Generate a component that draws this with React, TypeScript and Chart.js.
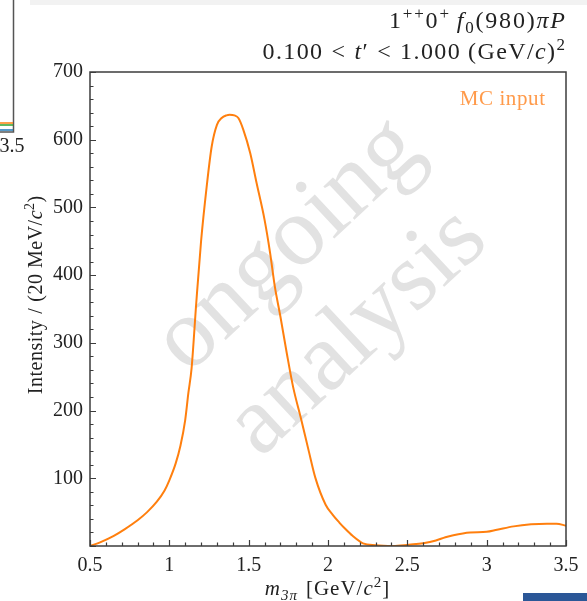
import React, { useEffect, useRef } from "react";
import { Chart, registerables } from "chart.js";

Chart.register(...registerables);

// ---- data ----
const massValues = [
  0.5, 0.56, 0.65, 0.72, 0.8, 0.86, 0.92, 0.97, 1.0, 1.04, 1.07, 1.1, 1.12, 1.14,
  1.17, 1.2, 1.235, 1.267, 1.3, 1.33, 1.36, 1.38, 1.41, 1.435, 1.466, 1.51, 1.55, 1.6,
  1.635, 1.665, 1.7, 1.74, 1.78, 1.83, 1.88, 1.92, 1.985, 2.03, 2.07, 2.11, 2.155, 2.22,
  2.3, 2.41, 2.51, 2.6, 2.68, 2.74, 2.79, 2.895, 3.0, 3.065, 3.17, 3.28, 3.38, 3.44, 3.5,
];
const intensityValues = [
  0, 5, 15, 25, 38, 50, 65, 82, 97, 122, 148, 186, 226, 262,
  360, 450, 530, 590, 622, 632, 636, 637, 636, 632, 615, 580, 536, 482,
  433, 383, 339, 285, 235, 188, 139, 101, 61, 46, 35, 25, 15, 4,
  1, 0, 2, 4, 8, 13, 16, 20, 21, 24, 29, 32, 33, 33, 30,
];
const xTickValues = [0.5, 1, 1.5, 2, 2.5, 3, 3.5];
const yTickValues = [100, 200, 300, 400, 500, 600, 700];
const seriesLabel = "MC input";
const watermarkWords = ["ongoing", "analysis"];

const SERIF = '"Liberation Serif", "DejaVu Serif", serif';
const LINE_COLOR = "#ff7f0e";
const TEXT_COLOR = "#222222";
const FRAME_COLOR = "#3c3c3c";

type Seg = { t?: string; gap?: number; it?: boolean; sup?: boolean; sub?: boolean };

function drawRich(
  ctx: CanvasRenderingContext2D,
  segs: Seg[],
  x: number,
  y: number,
  size: number,
  align: "left" | "right" | "center",
  color: string,
  ls = 0
) {
  const fontFor = (s: Seg) =>
    `${s.it ? "italic " : ""}${s.sup || s.sub ? Math.round(size * 0.7) : size}px ${SERIF}`;
  let total = 0;
  for (const s of segs) {
    if (s.gap !== undefined) {
      total += s.gap;
      continue;
    }
    ctx.font = fontFor(s);
    for (const ch of s.t || "") total += ctx.measureText(ch).width + ls;
  }
  total -= ls;
  let cx = align === "right" ? x - total : align === "center" ? x - total / 2 : x;
  ctx.fillStyle = color;
  ctx.textBaseline = "alphabetic";
  ctx.textAlign = "left";
  for (const s of segs) {
    if (s.gap !== undefined) {
      cx += s.gap;
      continue;
    }
    ctx.font = fontFor(s);
    const dy = s.sup ? -size * 0.38 : s.sub ? size * 0.22 : 0;
    for (const ch of s.t || "") {
      ctx.fillText(ch, cx, y + dy);
      cx += ctx.measureText(ch).width + ls;
    }
  }
}

const decorPlugin = {
  id: "decor",
  beforeDatasetsDraw(chart: any) {
    const ctx: CanvasRenderingContext2D = chart.ctx;
    ctx.save();
    ctx.fillStyle = "#e2e2e2";
    ctx.textAlign = "center";
    ctx.textBaseline = "alphabetic";
    const spots = [
      { cx: 293, cy: 250, w: 325 },
      { cx: 362, cy: 337, w: 315 },
    ];
    watermarkWords.forEach((word, i) => {
      const sp = spots[i];
      ctx.font = `100px ${SERIF}`;
      const w0 = ctx.measureText(word).width;
      const size = (100 * sp.w) / w0;
      ctx.save();
      ctx.translate(sp.cx, sp.cy);
      ctx.rotate((-43 * Math.PI) / 180);
      ctx.font = `${size}px ${SERIF}`;
      ctx.fillText(word, 0, size * 0.2);
      ctx.restore();
    });
    ctx.restore();
  },
  afterDraw(chart: any) {
    const ctx: CanvasRenderingContext2D = chart.ctx;
    const a = chart.chartArea;
    const xs = chart.scales.x;
    const ys = chart.scales.y;
    ctx.save();

    // inward ticks (minor + major)
    ctx.strokeStyle = FRAME_COLOR;
    ctx.lineWidth = 1.2;
    ctx.beginPath();
    for (let k = 5; k <= 35; k++) {
      const v = k / 10;
      const px = Math.round(xs.getPixelForValue(v)) + 0.5;
      const len = k % 5 === 0 ? 6 : 3.5;
      ctx.moveTo(px, a.bottom);
      ctx.lineTo(px, a.bottom - len);
    }
    for (let v = 0; v <= 700; v += 20) {
      const py = Math.round(ys.getPixelForValue(v)) + 0.5;
      const len = v % 100 === 0 ? 6 : 3.5;
      ctx.moveTo(a.left, py);
      ctx.lineTo(a.left + len, py);
    }
    ctx.stroke();

    // frame
    ctx.lineWidth = 1.5;
    ctx.strokeStyle = FRAME_COLOR;
    ctx.strokeRect(a.left, a.top, a.right - a.left, a.bottom - a.top);

    // series label
    drawRich(ctx, [{ t: seriesLabel }], a.right - 21, 105, 21, "right", "#ff9a4a", 0.6);

    // title lines
    drawRich(
      ctx,
      [
        { t: "1" },
        { t: "++", sup: true },
        { t: "0" },
        { t: "+", sup: true },
        { gap: 6 },
        { t: "f", it: true },
        { t: "0", sub: true },
        { t: "(980)" },
        { t: "π", it: true },
        { t: "P", it: true },
      ],
      565,
      28,
      24,
      "right",
      TEXT_COLOR,
      1.8
    );
    drawRich(
      ctx,
      [
        { t: "0.100" },
        { gap: 8 },
        { t: "<" },
        { gap: 8 },
        { t: "t", it: true },
        { t: "′" },
        { gap: 8 },
        { t: "<" },
        { gap: 8 },
        { t: "1.000" },
        { gap: 7 },
        { t: "(GeV/" },
        { t: "c", it: true },
        { t: ")" },
        { t: "2", sup: true },
      ],
      565,
      59,
      24,
      "right",
      TEXT_COLOR,
      1.4
    );

    // x axis title
    drawRich(
      ctx,
      [
        { t: "m", it: true },
        { t: "3π", sub: true, it: true },
        { gap: 8 },
        { t: "[GeV/" },
        { t: "c", it: true },
        { t: "2", sup: true },
        { t: "]" },
      ],
      327,
      595,
      21,
      "center",
      TEXT_COLOR,
      1
    );

    // y axis title
    ctx.save();
    ctx.translate(42, 295);
    ctx.rotate(-Math.PI / 2);
    drawRich(
      ctx,
      [
        { t: "Intensity" },
        { gap: 6 },
        { t: "/" },
        { gap: 6 },
        { t: "(20 MeV/" },
        { t: "c", it: true },
        { t: "2", sup: true },
        { t: ")" },
      ],
      0,
      0,
      20,
      "center",
      TEXT_COLOR,
      0.5
    );
    ctx.restore();

    // cropped neighbouring panel remnants
    ctx.fillStyle = "#f2f2f2";
    ctx.fillRect(30, 0, 557, 5);
    ctx.strokeStyle = "#555555";
    ctx.lineWidth = 1.5;
    ctx.beginPath();
    ctx.moveTo(13.5, 0);
    ctx.lineTo(13.5, 132);
    ctx.lineTo(0, 132);
    ctx.stroke();
    ctx.strokeStyle = "#ff7f0e";
    ctx.beginPath();
    ctx.moveTo(0, 123);
    ctx.lineTo(13, 123);
    ctx.stroke();
    ctx.strokeStyle = "#2ca02c";
    ctx.beginPath();
    ctx.moveTo(0, 125);
    ctx.lineTo(13, 125);
    ctx.stroke();
    ctx.strokeStyle = "#1f77b4";
    ctx.beginPath();
    ctx.moveTo(0, 130);
    ctx.lineTo(13, 130);
    ctx.stroke();
    ctx.font = `20px ${SERIF}`;
    ctx.fillStyle = TEXT_COLOR;
    ctx.textAlign = "center";
    ctx.fillText("3.5", 12, 152);

    ctx.fillStyle = "#2b5797";
    ctx.fillRect(523, 593, 64, 8);

    ctx.restore();
  },
};

export default function App() {
  const ref = useRef<HTMLCanvasElement | null>(null);
  useEffect(() => {
    document.body.style.margin = "0";
    const canvas = ref.current!;
    const chart = new Chart(canvas, {
      type: "line",
      data: {
        datasets: [
          {
            label: seriesLabel,
            data: massValues.map((m, i) => ({ x: m, y: intensityValues[i] })),
            borderColor: LINE_COLOR,
            borderWidth: 2,
            pointRadius: 0,
            fill: false,
            cubicInterpolationMode: "monotone",
          },
        ],
      },
      options: {
        animation: false,
        responsive: false,
        maintainAspectRatio: false,
        layout: { padding: { left: 0, top: 72, right: 21, bottom: 0 } },
        plugins: {
          legend: { display: false },
          tooltip: { enabled: false },
          title: { display: false },
        },
        scales: {
          x: {
            type: "linear",
            min: 0.5,
            max: 3.5,
            afterBuildTicks: (s: any) => {
              s.ticks = xTickValues.map((v) => ({ value: v }));
            },
            afterFit: (s: any) => {
              s.height = 55;
            },
            ticks: {
              autoSkip: false,
              maxRotation: 0,
              padding: 8,
              color: TEXT_COLOR,
              font: { family: SERIF, size: 20 },
              callback: (v: any) => String(v),
            },
            grid: { display: false, drawTicks: false },
            border: { display: false },
          },
          y: {
            type: "linear",
            min: 0,
            max: 700,
            afterBuildTicks: (s: any) => {
              s.ticks = yTickValues.map((v) => ({ value: v }));
            },
            afterFit: (s: any) => {
              s.width = 90;
            },
            ticks: {
              autoSkip: false,
              padding: 7,
              color: TEXT_COLOR,
              font: { family: SERIF, size: 20 },
              callback: (v: any) => String(v),
            },
            grid: { display: false, drawTicks: false },
            border: { display: false },
          },
        },
      },
      plugins: [decorPlugin],
    } as any);
    return () => chart.destroy();
  }, []);
  return <canvas ref={ref} width={587} height={601} style={{ display: "block" }} />;
}
